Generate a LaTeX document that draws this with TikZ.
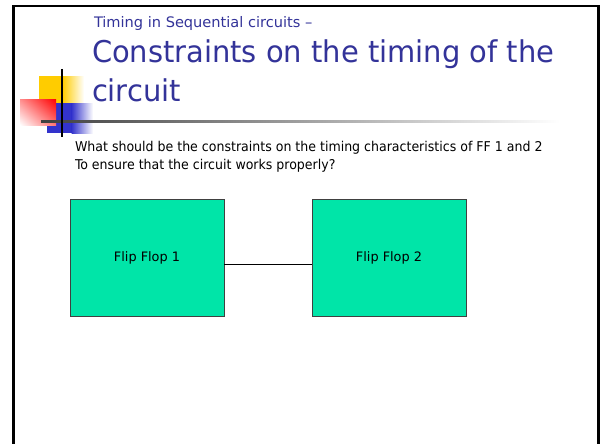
\documentclass[tikz,border=0pt]{standalone}
\usepackage{fontspec}
\setmainfont{DejaVu Sans Condensed}
\newfontfamily\titlefont[FakeStretch=1.072]{DejaVu Sans Condensed}
\newfontfamily\subfont[FakeStretch=1.118]{DejaVu Sans Condensed}
\newfontfamily\bodyfont[FakeStretch=1.035]{DejaVu Sans Condensed}
\newfontfamily\boxfont[FakeStretch=1.10]{DejaVu Sans Condensed}
\usetikzlibrary{calc,shadings}
\definecolor{titleblue}{RGB}{51,51,153}
\definecolor{ffgreen}{RGB}{0,229,168}
\definecolor{decoyellow}{RGB}{255,204,0}
\definecolor{decoblue}{RGB}{51,51,204}
\begin{document}
\begin{tikzpicture}[x=1pt,y=-1pt,
  ffbox/.style={draw=black!75,line width=0.9pt,fill=ffgreen,minimum width=154pt,minimum height=117pt,inner sep=0pt,font=\boxfont\fontsize{13}{15}\selectfont},
  txt/.style={anchor=base west,inner sep=0pt,outer sep=0pt}]
\useasboundingbox (0,0) rectangle (602,444);
\fill[white] (0,0) rectangle (602,444);
% frame
\draw[line width=2.5pt] (13.5,444) -- (13.5,6) -- (598.5,6) -- (598.5,444);
% decoration
\fill[decoyellow] (39,76) rectangle (63,103);
\shade[left color=decoyellow,right color=white] (62.5,76) rectangle (84,103);
\fill[decoblue] (47,103) rectangle (72,133);
\shade[left color=decoblue,right color=white] (71.5,103) rectangle (93,133);
\shade[upper right=red,upper left=red!45,lower right=red!55,lower left=white] (20,99) rectangle (56,125);
\shade[left color=black!75,right color=white] (41,120.3) rectangle (560,122.3);
\draw[line width=2pt] (61.7,69) -- (61.7,137);
% titles
\node[txt,text=titleblue,font=\subfont\fontsize{14.5}{16}\selectfont] (sub) at (94,27.3) {Timing in Sequential circuits –};
\node[txt,text=titleblue,font=\titlefont\fontsize{30}{34}\selectfont] (t1) at (92,62.3) {Constraints on the timing of the};
\node[txt,text=titleblue,font=\titlefont\fontsize{30}{34}\selectfont] (t2) at (92,101.7) {circuit};
% body
\node[txt,font=\bodyfont\fontsize{13.5}{15}\selectfont] (q1) at (75,151.7) {What should be the constraints on the timing characteristics of FF 1 and 2};
\node[txt,font=\bodyfont\fontsize{13.5}{15}\selectfont] (q2) at (75,169) {To ensure that the circuit works properly?};
% flip flops
\node[ffbox] (ff1) at (147,257.5) {Flip Flop 1};
\node[ffbox] (ff2) at (389,257.5) {Flip Flop 2};
\draw[line width=0.9pt] ([yshift=-6.5pt]ff1.east) -- ([yshift=-6.5pt]ff2.west);
\end{tikzpicture}
\end{document}
